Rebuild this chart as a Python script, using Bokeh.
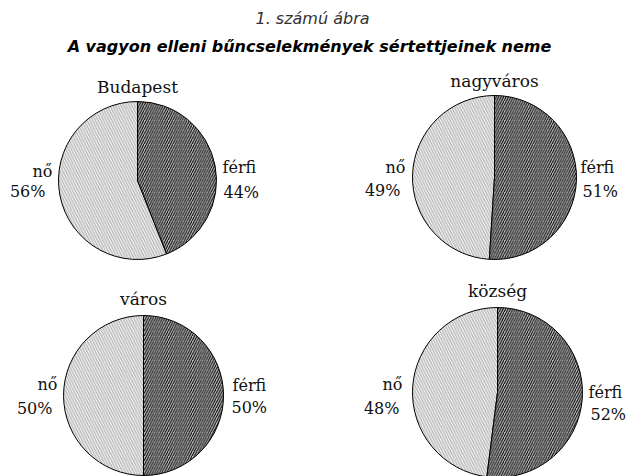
from bokeh.plotting import figure
from bokeh.models import ColumnDataSource, Range1d
from bokeh.core.properties import value
from bokeh.embed import file_html
from bokeh.resources import INLINE
import math

# ---- data ----
regions = ["Budapest", "nagyváros", "város", "község"]
ferfi = [44, 51, 50, 52]
no = [56, 49, 50, 48]
title1 = "1. számú ábra"
title2 = "A vagyon elleni bűncselekmények sértettjeinek neme"

# ---- layout (page pixel coords) ----
W, H = 628, 476
cx = [137, 494, 143, 497]
cy = [180, 177, 395, 392]
rad = [79, 82, 80, 85]
title_y = [86, 80, 298, 290]
fe_name_x = [222, 580, 232, 588]
fe_name_y = [167, 167, 385, 392]
fe_pct_x = [223, 582, 231, 590]
fe_pct_y = [192, 191, 407, 414]
no_name_x = [52, 405, 57, 402]
no_name_y = [171, 167, 384, 384]
no_pct_x = [45, 400, 52, 399]
no_pct_y = [191, 190, 408, 408]

def X(x):
    return x

def Y(y):
    return H - y

p = figure(width=W, height=H, output_backend="svg", toolbar_location=None,
           x_range=Range1d(0, W), y_range=Range1d(0, H), min_border=0)
p.axis.visible = False
p.grid.visible = False
p.outline_line_color = None
p.background_fill_color = "white"
p.border_fill_color = "white"

top = math.pi / 2
f_start = [top - 2 * math.pi * f / 100 for f in ferfi]
f_end = [top] * 4
n_start = [top] * 4
n_end = [top + 2 * math.pi * n / 100 for n in no]

src = ColumnDataSource(dict(
    x=[X(v) for v in cx], y=[Y(v) for v in cy], r=rad,
    fs=f_start, fe=f_end, ns=n_start, ne=n_end,
))

p.wedge(x="x", y="y", radius="r", start_angle="ns", end_angle="ne", source=src,
        fill_color="white", hatch_pattern="left_diagonal_line", hatch_color="#b8b8b8",
        hatch_scale=5.5, hatch_weight=1.5, line_color="black", line_width=1)
p.wedge(x="x", y="y", radius="r", start_angle="fs", end_angle="fe", source=src,
        fill_color="#bcbcbc", hatch_pattern="right_diagonal_line", hatch_color="#000000",
        hatch_scale=4.8, hatch_weight=1.0, line_color="black", line_width=1)

serif = value("DejaVu Serif")
lab_size = "16px"

# region titles
p.text(x=[X(v) for v in cx], y=[Y(v) for v in title_y], text=regions,
       text_font=serif, text_font_size="17px", text_align="center",
       text_baseline="middle", text_color="#111111")

# férfi labels
p.text(x=[X(v) for v in fe_name_x], y=[Y(v) for v in fe_name_y],
       text=["férfi"] * 4, text_font=serif, text_font_size=lab_size,
       text_align="left", text_baseline="middle", text_color="#111111")
p.text(x=[X(v) for v in fe_pct_x], y=[Y(v) for v in fe_pct_y],
       text=[f"{v}%" for v in ferfi], text_font=serif, text_font_size=lab_size,
       text_align="left", text_baseline="middle", text_color="#111111")

# nő labels
p.text(x=[X(v) for v in no_name_x], y=[Y(v) for v in no_name_y],
       text=["nő"] * 4, text_font=serif, text_font_size=lab_size,
       text_align="right", text_baseline="middle", text_color="#111111")
p.text(x=[X(v) for v in no_pct_x], y=[Y(v) for v in no_pct_y],
       text=[f"{v}%" for v in no], text_font=serif, text_font_size=lab_size,
       text_align="right", text_baseline="middle", text_color="#111111")

# titles
p.text(x=[X(312)], y=[Y(18)], text=[title1], text_font=value("DejaVu Sans"),
       text_font_size="16px", text_font_style="italic", text_align="center",
       text_baseline="middle", text_color="#333333")
p.text(x=[X(309)], y=[Y(46)], text=[title2], text_font=value("DejaVu Sans"),
       text_font_size="16px", text_font_style="bold italic", text_align="center",
       text_baseline="middle", text_color="#000000")

open("out.html", "w").write(file_html(p, INLINE))
